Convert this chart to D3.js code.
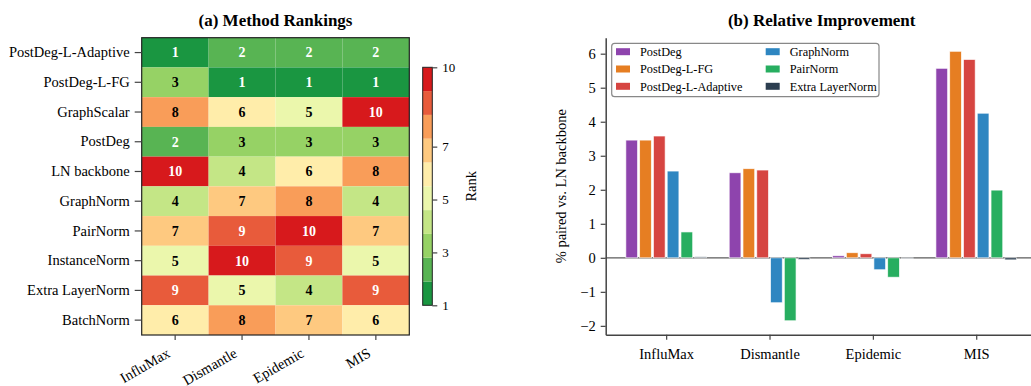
<!DOCTYPE html>
<html>
<head>
<meta charset="utf-8">
<script src="https://cdn.jsdelivr.net/npm/d3@7"></script>
<style>
  body { margin: 0; background: #fff; }
  svg { font-family: "Liberation Serif", "Times New Roman", serif; }
</style>
</head>
<body>
<svg id="chart" width="1031" height="386"></svg>
<script>
// heatmap rows (top to bottom) and task columns
const methods = ["PostDeg-L-Adaptive", "PostDeg-L-FG", "GraphScalar", "PostDeg", "LN backbone",
  "GraphNorm", "PairNorm", "InstanceNorm", "Extra LayerNorm", "BatchNorm"];
const tasks = ["InfluMax", "Dismantle", "Epidemic", "MIS"];

// rank of each method per task (same order as methods)
const rankInfluMax  = [1, 3, 8, 2, 10, 4, 7, 5, 9, 6];
const rankDismantle = [2, 1, 6, 3, 4, 7, 9, 10, 5, 8];
const rankEpidemic  = [2, 1, 5, 3, 6, 8, 10, 9, 4, 7];
const rankMIS       = [2, 1, 10, 3, 8, 4, 7, 5, 9, 6];
const rankTicks = [1, 3, 5, 7, 10];

// relative improvement (% paired vs LN backbone), one array per method over tasks
const barSeries = ["PostDeg", "PostDeg-L-FG", "PostDeg-L-Adaptive", "GraphNorm", "PairNorm", "Extra LayerNorm"];
const impPostDeg    = [3.46, 2.50, 0.06, 5.57];
const impPostDegLFG = [3.46, 2.62, 0.15, 6.07];
const impPostDegLA  = [3.58, 2.58, 0.12, 5.83];
const impGraphNorm  = [2.55, -1.32, -0.35, 4.25];
const impPairNorm   = [0.76, -1.85, -0.57, 1.99];
const impExtraLN    = [0.03, -0.05, 0.00, -0.06];
const yTicks = [-2, -1, 0, 1, 2, 3, 4, 5, 6];

const seriesColors = ["#8e44ad", "#e67e22", "#d64541", "#2e86c1", "#27ae60", "#2c3e50"];

const svg = d3.select("#chart");
const serif = "Liberation Serif";

// ---------- (a) heatmap ----------
const rankCols = [rankInfluMax, rankDismantle, rankEpidemic, rankMIS];
const cells = [];
tasks.forEach((t, j) => {
  methods.forEach((m, i) => cells.push({task: t, method: m, rank: rankCols[j][i]}));
});

const hx = d3.scaleBand().domain(tasks).range([141.7, 409.3]);
const hy = d3.scaleBand().domain(methods).range([37.7, 335]);

// green -> yellow -> red, cut into 10 levels
const cmapAnchors = ["#1a9641", "#a6d96a", "#ffffbf", "#fdae61", "#d7191c"];
const cmap = d3.piecewise(d3.interpolateRgb, cmapAnchors);
const levels = d3.quantize(cmap, 10);
const color = d3.scaleQuantize().domain([1, 10]).range(levels);

const heat = svg.append("g");
heat.selectAll("rect.cell")
  .data(cells)
  .enter()
  .append("rect")
  .attr("class", "cell")
  .attr("x", d => hx(d.task))
  .attr("y", d => hy(d.method))
  .attr("width", hx.bandwidth())
  .attr("height", hy.bandwidth())
  .attr("fill", d => color(d.rank));

heat.selectAll("text.val")
  .data(cells)
  .enter()
  .append("text")
  .attr("class", "val")
  .attr("x", d => hx(d.task) + hx.bandwidth() / 2)
  .attr("y", d => hy(d.method) + hy.bandwidth() / 2)
  .attr("dy", "0.35em")
  .attr("text-anchor", "middle")
  .attr("font-size", 14)
  .attr("font-weight", "bold")
  .attr("fill", d => (d.rank <= 2 || d.rank >= 9) ? "#fff" : "#000")
  .text(d => d.rank);

heat.append("rect")
  .attr("x", 141.7).attr("y", 37.7)
  .attr("width", 409.3 - 141.7).attr("height", 335 - 37.7)
  .attr("fill", "none").attr("stroke", "#222").attr("stroke-width", 1.2);

const hLeft = heat.append("g")
  .attr("transform", "translate(141.7,0)")
  .call(d3.axisLeft(hy).tickSize(7).tickSizeOuter(0).tickPadding(5));
hLeft.select(".domain").remove();
hLeft.selectAll("line").attr("stroke", "#444").attr("stroke-width", 1.2);
hLeft.selectAll("text").attr("font-size", 14.5).attr("fill", "#000").style("font-family", serif);

const hBottom = heat.append("g")
  .attr("transform", "translate(0,335)")
  .call(d3.axisBottom(hx).tickSize(5).tickSizeOuter(0));
hBottom.select(".domain").remove();
hBottom.selectAll("line").attr("stroke", "#444").attr("stroke-width", 1.2);
hBottom.selectAll("text")
  .attr("font-size", 14.5).attr("fill", "#000").style("font-family", serif)
  .attr("text-anchor", "end")
  .attr("x", 0).attr("y", 0).attr("dy", 0)
  .attr("transform", "translate(-4,21) rotate(-30)");

heat.append("text")
  .attr("x", 275.5).attr("y", 26)
  .attr("text-anchor", "middle")
  .attr("font-size", 17).attr("font-weight", "bold")
  .text("(a) Method Rankings");

// colorbar
const cbY = d3.scaleLinear().domain([1, 10]).range([305.3, 67.3]);
const cb = svg.append("g");
cb.selectAll("rect.band")
  .data(levels)
  .enter()
  .append("rect")
  .attr("class", "band")
  .attr("x", 422.7)
  .attr("width", 9.6)
  .attr("y", (c, k) => cbY(1 + 0.9 * (k + 1)))
  .attr("height", (c, k) => cbY(1 + 0.9 * k) - cbY(1 + 0.9 * (k + 1)))
  .attr("fill", c => c);
cb.append("rect")
  .attr("x", 422.7).attr("y", 67.3).attr("width", 9.6).attr("height", 305.3 - 67.3)
  .attr("fill", "none").attr("stroke", "#222").attr("stroke-width", 1);
const cbAxis = cb.append("g")
  .attr("transform", "translate(432.3,0)")
  .call(d3.axisRight(cbY).tickValues(rankTicks).tickSize(5).tickSizeOuter(0).tickPadding(5));
cbAxis.select(".domain").remove();
cbAxis.selectAll("line").attr("stroke", "#444").attr("stroke-width", 1.2);
cbAxis.selectAll("text").attr("font-size", 13).attr("fill", "#000").style("font-family", serif);
cb.append("text")
  .attr("transform", "translate(476,186.3) rotate(-90)")
  .attr("text-anchor", "middle")
  .attr("font-size", 14.5)
  .text("Rank");

// ---------- (b) grouped bars ----------
const impArrays = [impPostDeg, impPostDegLFG, impPostDegLA, impGraphNorm, impPairNorm, impExtraLN];
const bars = [];
barSeries.forEach((s, k) => {
  tasks.forEach((t, i) => bars.push({series: s, k: k, ti: i, value: impArrays[k][i]}));
});

const x0 = d3.scaleLinear().domain([-0.585, 3.53]).range([605.7, 1031]);
const xIn = d3.scaleBand().domain(barSeries).range([-0.4, 0.4]).paddingInner(0.15).paddingOuter(0.075);
const yB = d3.scaleLinear().domain([-2.26, 6.47]).range([334.7, 37.7]);

const bg = svg.append("g");

bg.append("line")
  .attr("x1", 605.7).attr("x2", 1031)
  .attr("y1", yB(0)).attr("y2", yB(0))
  .attr("stroke", "#333").attr("stroke-opacity", 0.8).attr("stroke-width", 1.2);

bg.selectAll("rect.bar")
  .data(bars)
  .enter()
  .append("rect")
  .attr("class", "bar")
  .attr("x", d => x0(d.ti + xIn(d.series)))
  .attr("width", x0(xIn.bandwidth()) - x0(0))
  .attr("y", d => yB(Math.max(0, d.value)))
  .attr("height", d => Math.max(0.6, Math.abs(yB(d.value) - yB(0))))
  .attr("fill", d => seriesColors[d.k])
  .attr("stroke", "#fff")
  .attr("stroke-opacity", 0.8)
  .attr("stroke-width", 0.8);

const bLeft = bg.append("g")
  .attr("transform", "translate(605.7,0)")
  .call(d3.axisLeft(yB).tickValues(yTicks).tickFormat(d => d < 0 ? "\u2212" + Math.abs(d) : d)
    .tickSize(5).tickSizeOuter(0).tickPadding(5));
bLeft.select(".domain").attr("stroke", "#444").attr("stroke-width", 1.5);
bLeft.selectAll("line").attr("stroke", "#444").attr("stroke-width", 1.2);
bLeft.selectAll("text").attr("font-size", 14.5).attr("fill", "#000").style("font-family", serif);

const bBottom = bg.append("g")
  .attr("transform", "translate(0,334.7)")
  .call(d3.axisBottom(x0).tickValues(d3.range(tasks.length)).tickFormat(i => tasks[i])
    .tickSize(5).tickSizeOuter(0).tickPadding(9));
bBottom.select(".domain").attr("stroke", "#444").attr("stroke-width", 1.5);
bBottom.selectAll("line").attr("stroke", "#444").attr("stroke-width", 1.2);
bBottom.selectAll("text").attr("font-size", 14.5).attr("fill", "#000").style("font-family", serif);

bg.append("text")
  .attr("transform", "translate(566,186.2) rotate(-90)")
  .attr("text-anchor", "middle")
  .attr("font-size", 14.5)
  .text("% paired vs. LN backbone");

bg.append("text")
  .attr("x", 821.7).attr("y", 26)
  .attr("text-anchor", "middle")
  .attr("font-size", 17).attr("font-weight", "bold")
  .text("(b) Relative Improvement");

// legend, two columns of three
const legend = bg.append("g");
legend.append("rect")
  .attr("x", 611.7).attr("y", 43.3).attr("width", 267.3).attr("height", 53.4)
  .attr("rx", 3).attr("fill", "#fff").attr("fill-opacity", 0.85)
  .attr("stroke", "#888").attr("stroke-width", 1.2);
const lg = legend.selectAll("g.item")
  .data(barSeries)
  .enter()
  .append("g")
  .attr("class", "item")
  .attr("transform", (s, k) => "translate(" + (k < 3 ? 616 : 765.7) + "," + (51.7 + (k % 3) * 17.3) + ")");
lg.append("rect")
  .attr("x", 0).attr("y", -3.5).attr("width", 14).attr("height", 7)
  .attr("fill", (s, k) => seriesColors[k]);
lg.append("text")
  .attr("x", 24).attr("dy", "0.35em")
  .attr("font-size", 12.3)
  .text(s => s);
</script>
</body>
</html>
